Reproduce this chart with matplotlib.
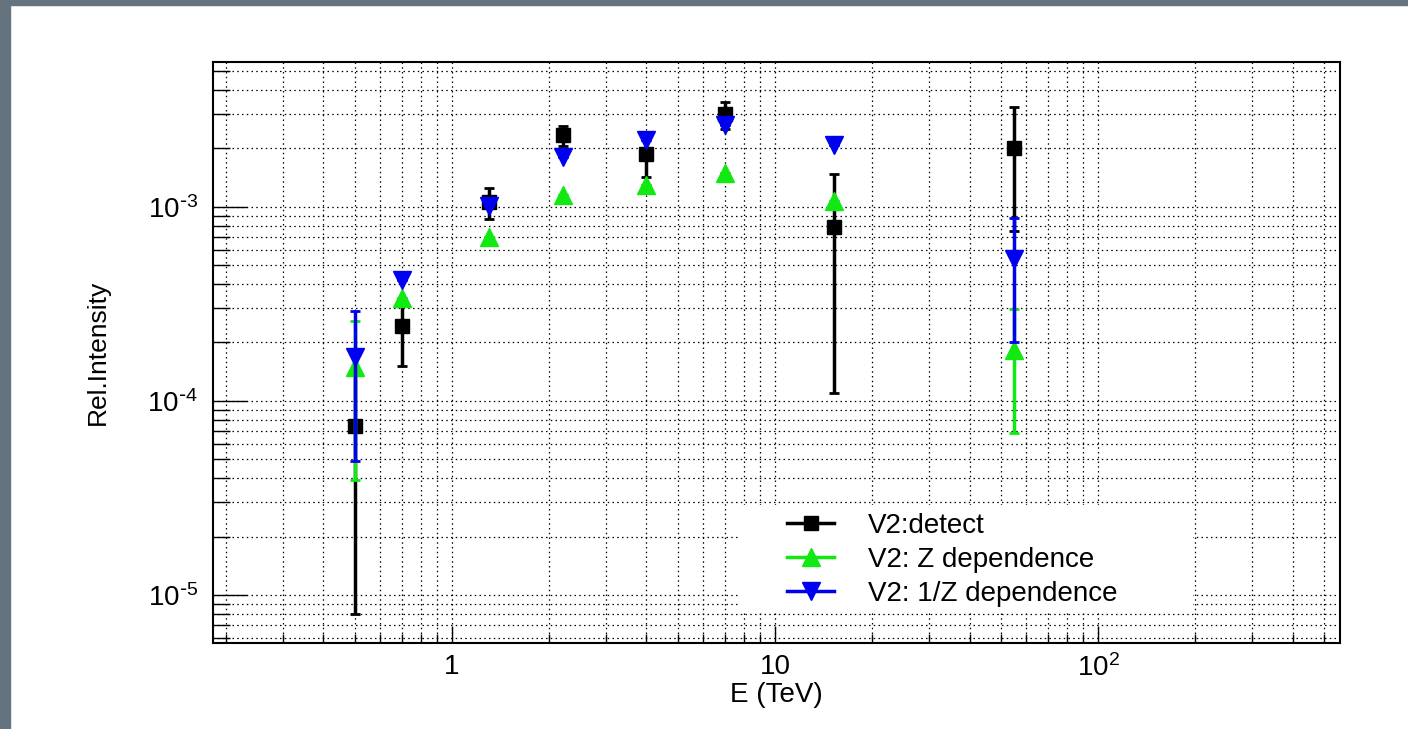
import numpy as np
import matplotlib
matplotlib.use("Agg")
import matplotlib.pyplot as plt
from matplotlib.lines import Line2D
from matplotlib.patches import Rectangle
from matplotlib.ticker import LogLocator, FuncFormatter, NullFormatter

# values (E in TeV, relative intensity)
energy = [0.5, 0.7, 1.3, 2.2, 4.0, 7.0, 15.2, 55.0]

detect     = [7.4e-5, 2.42e-4, 1.06e-3, 2.34e-3, 1.87e-3, 3.0e-3, 7.9e-4, 2.01e-3]
detect_err = [6.6e-5, 9.0e-5, 1.9e-4, 2.8e-4, 4.4e-4, 4.8e-4, 6.8e-4, 1.26e-3]

z_dep     = [1.49e-4, 3.4e-4, 7.0e-4, 1.15e-3, 1.3e-3, 1.5e-3, 1.07e-3, 1.82e-4]
z_dep_err = [1.1e-4, 0, 0, 0, 0, 0, 0, 1.14e-4]

inv_z     = [1.69e-4, 4.2e-4, 1.01e-3, 1.81e-3, 2.21e-3, 2.64e-3, 2.08e-3, 5.4e-4]
inv_z_err = [1.2e-4, 0, 0, 0, 0, 0, 0, 3.4e-4]

labels = ["V2:detect", "V2: Z dependence", "V2: 1/Z dependence"]
GREEN = "#12e812"
BLUE = "#0000f0"

plt.rcParams.update({
    "font.family": ["Liberation Sans", "DejaVu Sans"],
    "mathtext.default": "regular",
})

W, H = 1408, 729
fig = plt.figure(figsize=(W / 100, H / 100), dpi=100)
fig.patch.set_facecolor("white")
# slide background strips
fig.add_artist(Rectangle((0, 0), 10 / W, 1, transform=fig.transFigure,
                         color="#65737e", zorder=0))
fig.add_artist(Rectangle((0, 1 - 5 / H), 1, 5 / H, transform=fig.transFigure,
                         color="#65737e", zorder=0))

ax = fig.add_axes([213 / W, 1 - 643 / H, (1340 - 213) / W, (643 - 62) / H])
ax.set_xscale("log")
ax.set_yscale("log")
ax.set_xlim(0.182, 561)
ax.set_ylim(5.66e-6, 5.57e-3)

common = dict(lw=2.5, capsize=3.5, capthick=2, linestyle="none")
ax.errorbar(energy, detect, yerr=detect_err, fmt="s", color="black", ms=10,
            zorder=3, **common)
ax.errorbar(energy, z_dep, yerr=z_dep_err, fmt="^", color=GREEN, ms=13,
            zorder=4, **common)
ax.errorbar(energy, inv_z, yerr=inv_z_err, fmt="v", color=BLUE, ms=13,
            zorder=5, **common)

for axis in (ax.xaxis, ax.yaxis):
    axis.set_major_locator(LogLocator(base=10, numticks=50))
    axis.set_minor_locator(LogLocator(base=10, subs=np.arange(2, 10), numticks=100))
    axis.set_minor_formatter(NullFormatter())


def pow_label(v, _):
    e = int(round(np.log10(v)))
    if e == 0:
        return "1"
    if e == 1:
        return "10"
    if e < 0:
        return r"$10^{\text{-}%d}$" % (-e)
    return f"$10^{{{e}}}$"


ax.xaxis.set_major_formatter(FuncFormatter(pow_label))
ax.yaxis.set_major_formatter(FuncFormatter(pow_label))

ax.set_axisbelow(True)
ax.grid(True, which="both", color="black", lw=0.9, linestyle=(0, (1.2, 2.6)))

ax.tick_params(axis="x", which="major", direction="in", length=12.2, width=1,
               labelsize=20, pad=8)
ax.tick_params(axis="x", which="minor", direction="in", length=6.5, width=1)
ax.tick_params(axis="y", which="major", direction="in", length=24.5, width=1,
               labelsize=20, pad=11)
ax.tick_params(axis="y", which="minor", direction="in", length=12, width=1)
for sp in ax.spines.values():
    sp.set_linewidth(1.5)

ax.set_xlabel("E (TeV)", fontsize=20, labelpad=0)
ax.set_ylabel("Rel.Intensity", fontsize=19, labelpad=27)

# white legend background, covering the grid
ax.add_patch(Rectangle(((740 - 213) / 1127, (643 - 612) / 581),
                       (1193 - 740) / 1127, (612 - 505) / 581,
                       transform=ax.transAxes, facecolor="white",
                       edgecolor="none", zorder=1.5))

handles = [
    Line2D([0], [0], color="black", marker="s", ms=10, lw=2.5),
    Line2D([0], [0], color=GREEN, marker="^", ms=13, lw=2.5),
    Line2D([0], [0], color=BLUE, marker="v", ms=13, lw=2.5),
]
ax.legend(handles, labels, loc="upper left",
          bbox_to_anchor=((787 - 213) / 1127, (643 - 513) / 581),
          frameon=False, fontsize=20, handlelength=1.7, handletextpad=1.2,
          labelspacing=0.28, borderpad=0, borderaxespad=0)

fig.savefig("out.png", dpi=100, facecolor="white")
